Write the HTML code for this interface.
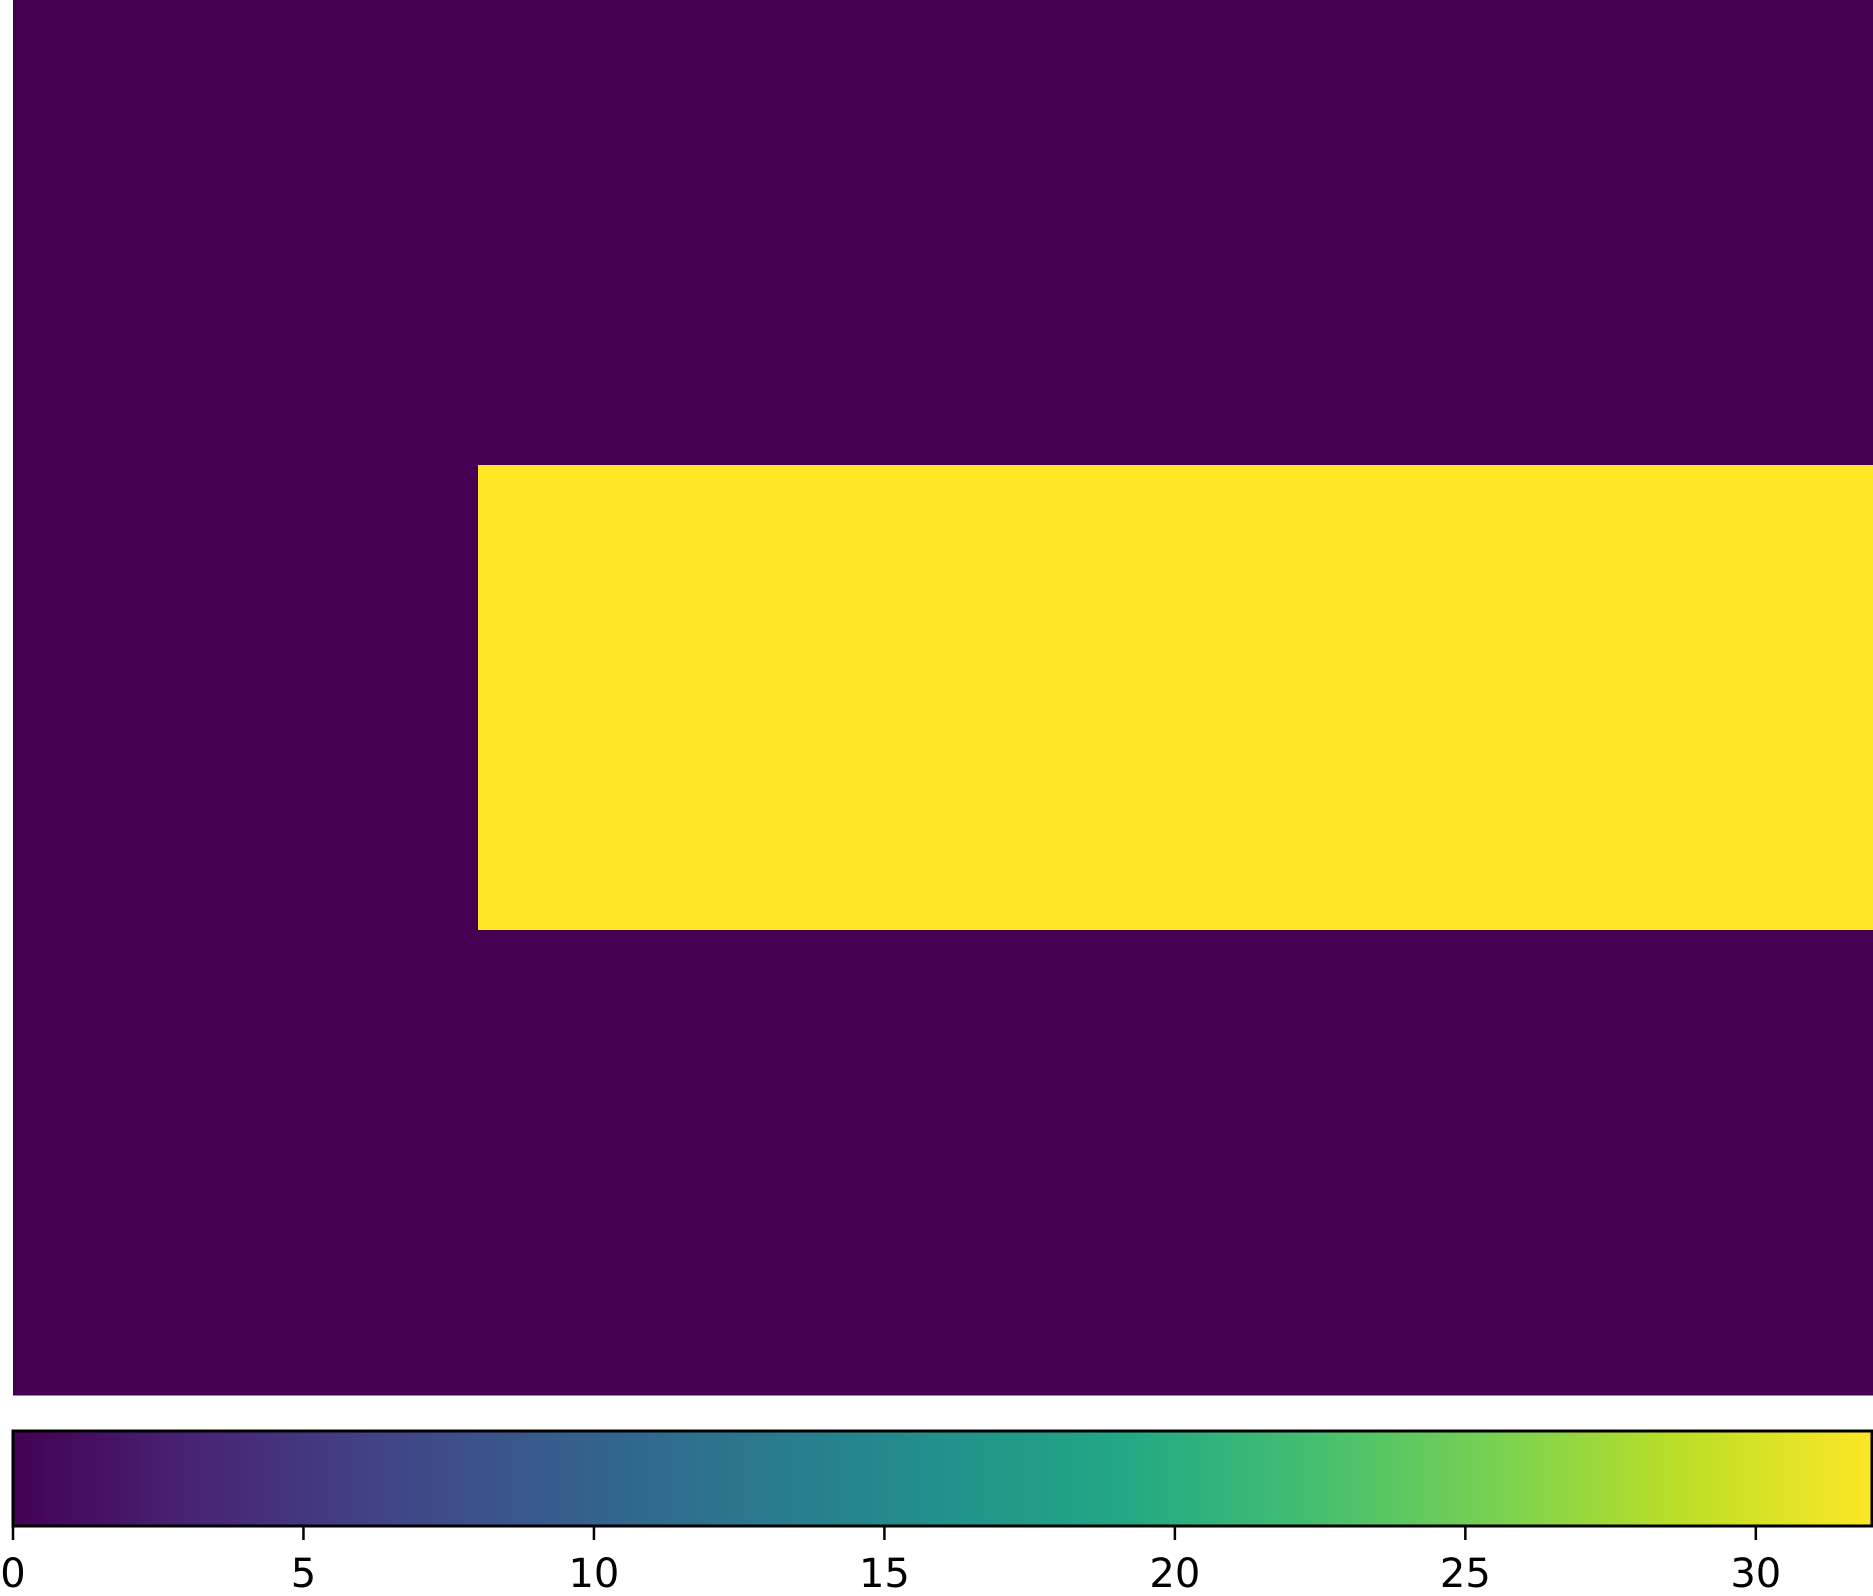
<!DOCTYPE html>
<html><head><meta charset="utf-8"><style>
html,body{margin:0;padding:0;background:#fff;width:1873px;height:1596px;overflow:hidden}
svg{display:block}
text{font-family:"DejaVu Sans","Liberation Sans",sans-serif}
</style></head><body>
<svg id="chart" width="1873" height="1596">
<defs>
<linearGradient id="viridis" x1="0" x2="1" y1="0" y2="0">
<stop offset="0" stop-color="#440154"/><stop offset="0.1" stop-color="#482475"/>
<stop offset="0.2" stop-color="#414487"/><stop offset="0.3" stop-color="#355f8d"/>
<stop offset="0.4" stop-color="#2a788e"/><stop offset="0.5" stop-color="#21918c"/>
<stop offset="0.6" stop-color="#22a884"/><stop offset="0.7" stop-color="#44bf70"/>
<stop offset="0.8" stop-color="#7ad151"/><stop offset="0.9" stop-color="#bddf26"/>
<stop offset="1" stop-color="#fde725"/>
</linearGradient>
</defs>
<g id="cells"></g>
<g id="cbar"></g>
</svg>
<script>
const rows = ["r0","r1","r2"];
const cols = ["c0","c1","c2","c3"];
const values = [[0,0,0,0],[0,32,32,32],[0,0,0,0]];
const vmin = 0, vmax = 32;
const cbTicks = [0,5,10,15,20,25,30];

const NS="http://www.w3.org/2000/svg";
const X0=13,X1=1873,Y0=0,Y1=1395;
const cw=(X1-X0)/cols.length, rh=(Y1-Y0)/rows.length;
const stops=[[68,1,84],[72,36,117],[65,68,135],[53,95,141],[42,120,142],[33,145,140],[34,168,132],[68,191,112],[122,209,81],[189,223,38],[253,231,37]];
function viridis(v){let t=(v-vmin)/(vmax-vmin);t=Math.max(0,Math.min(1,t))*10;const i=Math.min(9,Math.floor(t)),f=t-i;const a=stops[i],b=stops[i+1];return `rgb(${a.map((c,k)=>Math.round(c+(b[k]-c)*f)).join(",")})`;}
const cells=document.getElementById('cells');
values.forEach((row,r)=>row.forEach((v,c)=>{
  const e=document.createElementNS(NS,'rect');
  e.setAttribute('x',X0+c*cw);e.setAttribute('y',Y0+r*rh);
  e.setAttribute('width',cw+0.5);e.setAttribute('height',rh+0.5);
  e.setAttribute('fill',viridis(v));
  
  
  cells.appendChild(e);
}));
const cb=document.getElementById('cbar');
const CX0=13,CX1=1872,CY0=1431,CY1=1526;
const sx=v=>CX0+(v-vmin)/(vmax-vmin)*(CX1-CX0);
const bar=document.createElementNS(NS,'rect');
bar.setAttribute('x',CX0);bar.setAttribute('y',CY0);bar.setAttribute('width',CX1-CX0);bar.setAttribute('height',CY1-CY0);
bar.setAttribute('fill','url(#viridis)');bar.setAttribute('stroke','#000');bar.setAttribute('stroke-width','3');


cb.appendChild(bar);
cbTicks.forEach(t=>{
  const x=sx(t);
  const l=document.createElementNS(NS,'line');
  l.setAttribute('x1',x);l.setAttribute('x2',x);l.setAttribute('y1',CY1);l.setAttribute('y2',1540);
  l.setAttribute('stroke','#000');l.setAttribute('stroke-width','2.5');
  
  
  cb.appendChild(l);
  const tx=document.createElementNS(NS,'text');
  tx.setAttribute('x',x);tx.setAttribute('y',1587);tx.setAttribute('text-anchor','middle');
  tx.setAttribute('font-size','40');tx.textContent=t;
  
  
  cb.appendChild(tx);
});
</script>
</body></html>
